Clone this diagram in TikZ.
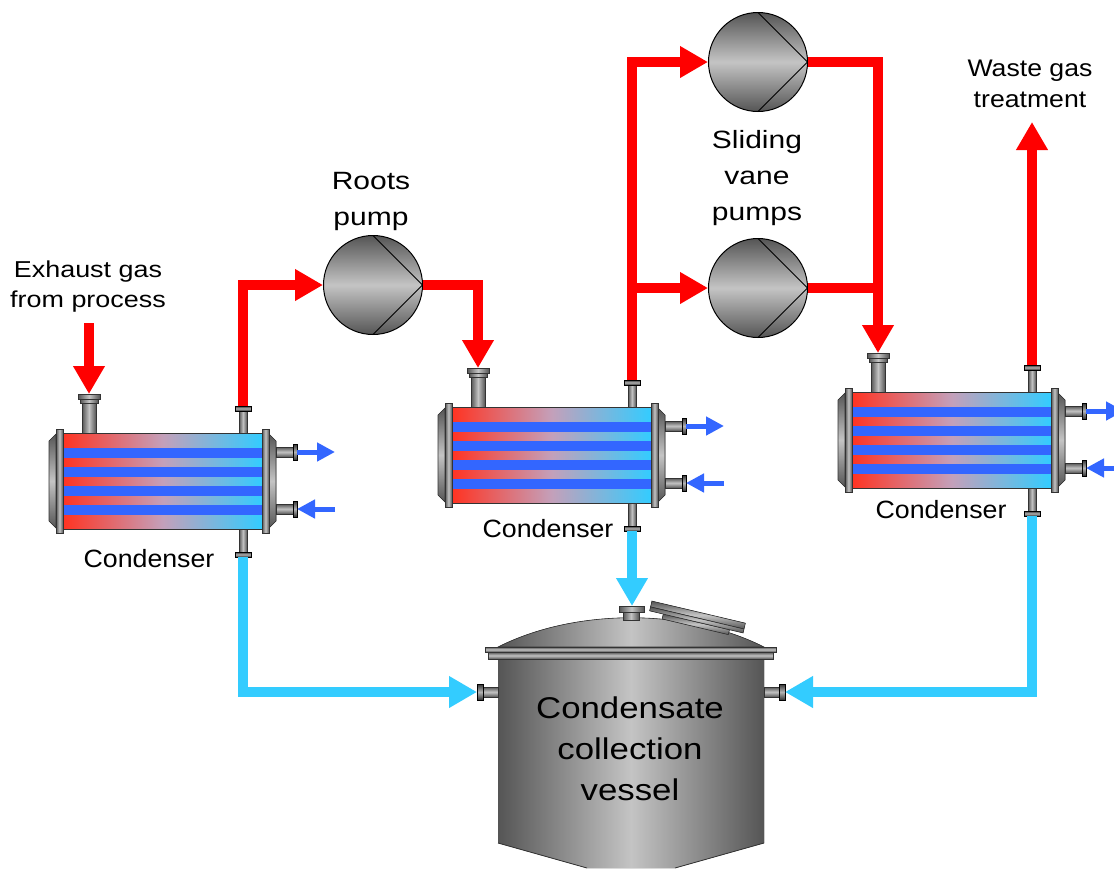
\documentclass[tikz,border=0pt]{standalone}
\usepackage{fontspec}
\newfontfamily\lab{Liberation Sans}
\usetikzlibrary{arrows.meta}

\definecolor{pipered}{HTML}{FF0000}
\definecolor{pipecyan}{HTML}{33CCFF}
\definecolor{cwblue}{HTML}{3366FF}
\definecolor{hotred}{HTML}{FF3322}
\definecolor{shellmid}{HTML}{C4A0BA}
\definecolor{coolcyan}{HTML}{33CCFF}
\definecolor{steeldark}{HTML}{555555}
\definecolor{steellight}{HTML}{C4C4C4}
\definecolor{edge}{HTML}{333333}

\tikzset{
  redpipe/.style={draw=pipered, line width=10pt},
  cyanpipe/.style={draw=pipecyan, line width=10pt},
  flowarrow/.style={-{Triangle[length=28pt,width=30pt]}},
  cwline/.style={draw=cwblue, line width=5pt, -{Triangle[length=18pt,width=18pt]}},
  metalv/.style={left color=steeldark, right color=steeldark, middle color=steellight, draw=edge, line width=0.6pt},
  metalh/.style={top color=steeldark, bottom color=steeldark, middle color=steellight, draw=edge, line width=0.6pt},
  flange/.style={top color=black!80, bottom color=black!80, middle color=gray!60, draw=black, line width=0.6pt},
  pump/.style={circle, minimum size=99pt, inner sep=0pt, draw=black, line width=1pt,
    top color=steeldark, bottom color=steeldark, middle color=steellight,
    path picture={\draw[black, line width=0.9pt]
      (path picture bounding box.north) -- (path picture bounding box.east)
      -- (path picture bounding box.south);}},
  lbl/.style={inner sep=0pt, align=center, transform shape},
  condenser/.pic={
    % tube bundle: shell side runs hot to cold, cooling tubes in blue
    \fill[left color=hotred, right color=coolcyan, middle color=shellmid] (0,0) rectangle (199,96);
    \foreach \k in {0,1,2,3}{\fill[cwblue] (0,{15+19*\k}) rectangle (199,{24.5+19*\k});}
    \draw[edge, line width=0.6pt] (0,0) rectangle (199,96);
    % dished end heads and tube sheets
    \filldraw[metalh] (-7,1) -- (-14,8) -- (-14,88) -- (-7,95) -- cycle;
    \filldraw[metalv] (-7,-4) rectangle (0,100);
    \filldraw[metalh] (206,1) -- (213,8) -- (213,88) -- (206,95) -- cycle;
    \filldraw[metalv] (199,-4) rectangle (206,100);
    % vapour inlet nozzle
    \filldraw[metalv] (19,-30) rectangle (33,0);
    \filldraw[metalv] (17,-34) rectangle (35,-30);
    \filldraw[metalv] (15,-39) rectangle (37,-34);
    % vapour outlet and condensate drain
    \filldraw[metalv] (176,-23) rectangle (184,0);
    \filldraw[flange] (172,-27) rectangle (188,-22);
    \filldraw[metalv] (176,96) rectangle (184,119);
    \filldraw[flange] (172,119) rectangle (188,124);
    % cooling water nozzles
    \filldraw[metalh] (213,14) rectangle (230,24);
    \filldraw[flange] (230,11) rectangle (234,27);
    \filldraw[metalh] (213,71) rectangle (230,81);
    \filldraw[flange] (230,68) rectangle (234,84);
    \coordinate (-in) at (26,-39);
    \coordinate (-out) at (180,-27);
    \coordinate (-drain) at (180,124);
    \coordinate (-cwo) at (234,19);
    \coordinate (-cwi) at (234,76);
    \coordinate (-cwoend) at (272,19);
    \coordinate (-cwiend) at (272,76);
  }
}

\begin{document}
\begin{tikzpicture}[x=1pt, y=-1pt, line join=miter]
\useasboundingbox (0,0) rectangle (1114,868);
\fill[white] (0,0) rectangle (1114,868);

% ---------- condensate collection vessel ----------
\fill[left color=steeldark, right color=steeldark, middle color=steellight]
  (498,659) -- (498,843) -- (587,868) -- (675,868) -- (764,843) -- (764,659) -- cycle;
\draw[edge, line width=0.8pt] (498,843) -- (587,868) (675,868) -- (764,843);
\filldraw[left color=steeldark, right color=steeldark, middle color=steellight, draw=edge, line width=0.6pt]
  (498,647) .. controls (575,608) and (687,608) .. (764,647) -- cycle;
\filldraw[metalh] (485,647) rectangle (776,652);
\filldraw[metalh] (488,652) rectangle (773,659);
% top nozzle
\filldraw[metalv] (623,612) rectangle (639,620);
\filldraw[metalv] (619,606) rectangle (644,612);
% open manhole lid
\begin{scope}[shift={(697.5,617)}, rotate=-13.3]
  \filldraw[metalh] (-34,5) rectangle (34,10);
  \filldraw[metalh] (-48,-5) rectangle (48,1);
  \filldraw[metalh] (-48,1) rectangle (48,5);
\end{scope}
% side inlet nozzles
\filldraw[metalh] (483,687) rectangle (498,697);
\filldraw[flange] (477,684) rectangle (483,700);
\filldraw[metalh] (764,687) rectangle (779,697);
\filldraw[flange] (779,684) rectangle (785,700);
\coordinate (vleft) at (477,692);
\coordinate (vright) at (785,692);
\coordinate (vtop) at (632,606);
\node[lbl, font=\fontsize{30}{41}\selectfont\lab, xscale=1.16, anchor=base] (vlabel) at (630,800)
  {Condensate\\collection\\vessel};

% ---------- free ends of the gas line ----------
\coordinate (exhaust) at (89,323);
\coordinate (waste) at (1032,122);

\draw[redpipe, flowarrow] (exhaust) -- (89,394);

% ---------- condensers and pumps ----------
\pic (c1) at (63,433) {condenser};
\pic (c2) at (452,407) {condenser};
\pic (c3) at (852,392) {condenser};

\node[pump] (roots) at (373,285) {};
\node[pump] (vane1) at (758,62) {};
\node[pump] (vane2) at (758,288) {};

% ---------- gas lines ----------
\draw[redpipe, flowarrow] (c1-out) |- (roots.west);
\draw[redpipe, flowarrow] (roots.east) -| (c2-in);
\draw[redpipe, flowarrow] (c2-out) |- (vane1.west);
\draw[redpipe, flowarrow] (c2-out |- vane2.west) -- (vane2.west);
\draw[redpipe, flowarrow] (vane1.east) -| (c3-in);
\draw[redpipe] (vane2.east) -- (vane2.east -| c3-in);
\draw[redpipe, flowarrow] (c3-out) -- (waste);

% ---------- condensate lines ----------
\draw[cyanpipe, flowarrow] (c1-drain) |- (vleft);
\draw[cyanpipe, flowarrow] (c2-drain) -- (c2-drain |- vtop);
\draw[cyanpipe, flowarrow] (c3-drain) |- (vright);

% ---------- cooling water ----------
\foreach \c in {c1,c2,c3}{
  \draw[cwline] (\c-cwo) -- (\c-cwoend);
  \draw[cwline] (\c-cwiend) -- (\c-cwi);
}

% ---------- labels ----------
\node[lbl, font=\fontsize{23}{30}\selectfont\lab, xscale=1.17, anchor=base] (lexh) at (88,307) {Exhaust gas\\from process};
\node[lbl, font=\fontsize{25}{36}\selectfont\lab, xscale=1.2, anchor=base] (lroots) at (371,225) {Roots\\pump};
\node[lbl, font=\fontsize{25}{36}\selectfont\lab, xscale=1.2, anchor=base] (lvane) at (757,220) {Sliding\\vane\\pumps};
\node[lbl, font=\fontsize{24}{31}\selectfont\lab, xscale=1.11, anchor=base] (lwaste) at (1030,107) {Waste gas\\treatment};
\node[lbl, font=\fontsize{25}{30}\selectfont\lab, xscale=1.07, anchor=base] (lc1) at (149,567) {Condenser};
\node[lbl, font=\fontsize{25}{30}\selectfont\lab, xscale=1.07, anchor=base] (lc2) at (548,537) {Condenser};
\node[lbl, font=\fontsize{25}{30}\selectfont\lab, xscale=1.07, anchor=base] (lc3) at (941,518) {Condenser};
\end{tikzpicture}
\end{document}
